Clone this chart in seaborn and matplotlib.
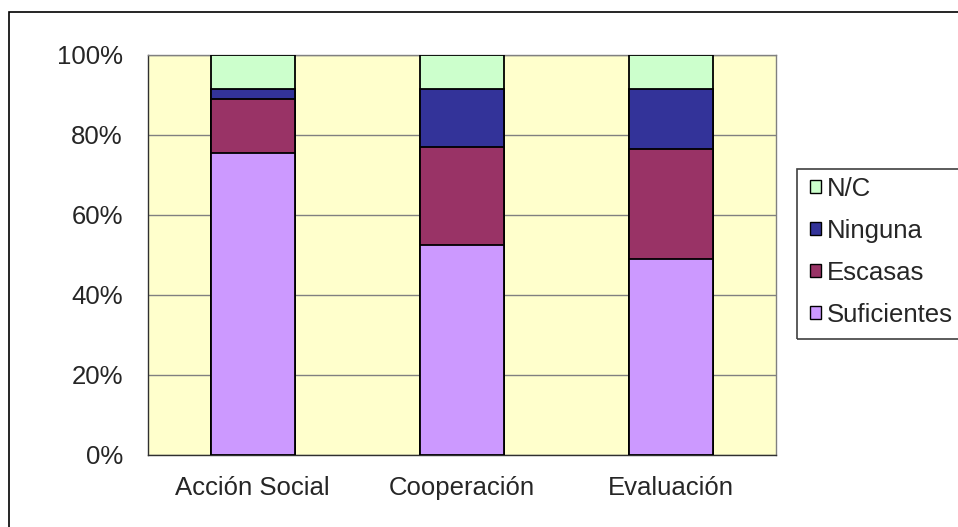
#!/usr/bin/env python3

import pandas as pd
import matplotlib
matplotlib.use("Agg")
import matplotlib.pyplot as plt
from matplotlib.patches import Rectangle, Patch
from matplotlib.ticker import FixedLocator
import seaborn as sns

categories = ["Acción Social", "Cooperación", "Evaluación"]
suficientes = [75.6, 52.6, 49.0]
escasas = [13.4, 24.5, 27.6]
ninguna = [2.5, 14.4, 14.9]
nc = [8.5, 8.5, 8.5]

series_names = ["Suficientes", "Escasas", "Ninguna", "N/C"]
colors = {"Suficientes": "#CC99FF", "Escasas": "#993366",
          "Ninguna": "#333399", "N/C": "#CCFFCC"}
y_ticks = [0, 20, 40, 60, 80, 100]
y_labels = ["0%", "20%", "40%", "60%", "80%", "100%"]


def main():
    df = pd.DataFrame({"categoria": categories, "Suficientes": suficientes,
                       "Escasas": escasas, "Ninguna": ninguna, "N/C": nc})
    # cumulative tops, drawn from the top layer down so they stack
    cum = df[series_names].cumsum(axis=1)
    cum["categoria"] = df["categoria"]

    sns.set_style("white")
    plt.rcParams["font.family"] = ["Liberation Sans", "DejaVu Sans"]
    fs = 18.5

    fig = plt.figure(figsize=(9.58, 5.27), dpi=100)
    ax = fig.add_axes([148 / 958, 72 / 527, 628 / 958, 400 / 527])
    ax.set_facecolor("#FFFFCC")

    for name in reversed(series_names):
        sns.barplot(data=cum, x="categoria", y=name, color=colors[name],
                    width=0.4, edgecolor="black", linewidth=1.3,
                    errorbar=None, ax=ax, zorder=3, saturation=1)

    ax.set_xlim(-0.5, 2.5)
    ax.set_ylim(0, 100)
    ax.set_yticks(y_ticks)
    ax.set_yticklabels(y_labels, fontsize=fs)
    ax.yaxis.grid(True, color="#808080", linewidth=1, zorder=0)
    ax.set_axisbelow(True)
    ax.set_xlabel("")
    ax.set_ylabel("")

    ax.set_xticks([0, 1, 2])
    ax.set_xticklabels(categories, fontsize=fs)
    ax.tick_params(axis="x", which="major", length=0, pad=15)
    ax.xaxis.set_minor_locator(FixedLocator([-0.5, 0.5, 1.5, 2.5]))
    ax.tick_params(axis="x", which="minor", length=10, width=1, color="#404040", direction="out")
    ax.tick_params(axis="y", length=10, width=1, color="#404040", direction="out", pad=8)

    for side in ["left", "bottom"]:
        ax.spines[side].set_color("#303030")
        ax.spines[side].set_linewidth(1)
    for side in ["top", "right"]:
        ax.spines[side].set_visible(True)
        ax.spines[side].set_color("#808080")
        ax.spines[side].set_linewidth(1)

    # outer chart frame, cut off by the image edge
    fig.patches.append(Rectangle((9 / 958, -0.05), 1.2, 1.05 - 12 / 527,
                                 transform=fig.transFigure, fill=False,
                                 edgecolor="black", linewidth=1.2))

    # legend box
    fig.patches.append(Rectangle((797 / 958, 1 - 339 / 527), 0.3, 170 / 527,
                                 transform=fig.transFigure, fill=False,
                                 edgecolor="#404040", linewidth=1.2))
    handles = [Patch(facecolor=colors[n], edgecolor="black", linewidth=1)
               for n in reversed(series_names)]
    fig.legend(handles, list(reversed(series_names)), loc="upper left",
               bbox_to_anchor=(810 / 958, 1 - 177 / 527), frameon=False,
               fontsize=fs, handlelength=0.42, handleheight=0.42,
               handletextpad=0.25, labelspacing=0.7, borderaxespad=0,
               borderpad=0)

    fig.savefig("out.png", dpi=100)
    plt.close(fig)


if __name__ == "__main__":
    main()
